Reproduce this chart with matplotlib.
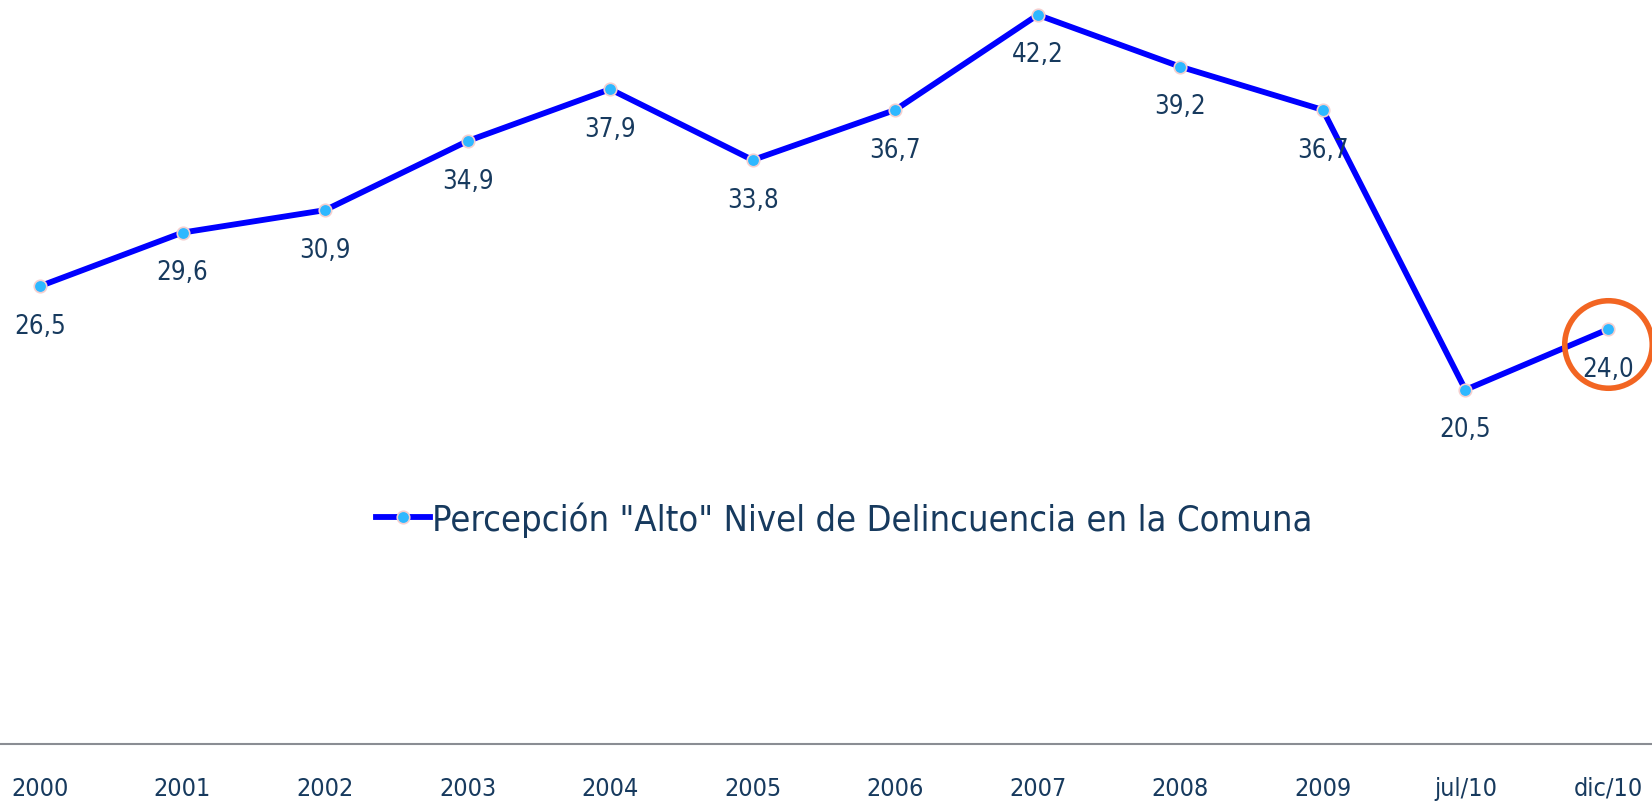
import matplotlib.pyplot as plt
from matplotlib.transforms import offset_copy

# data
periods = ["2000", "2001", "2002", "2003", "2004", "2005", "2006",
           "2007", "2008", "2009", "jul/10", "dic/10"]
percepcion = [26.5, 29.6, 30.9, 34.9, 37.9, 33.8, 36.7, 42.2, 39.2, 36.7, 20.5, 24.0]
series_name = 'Percepción "Alto" Nivel de Delincuencia en la Comuna'

text_color = "#173A5E"
plt.rcParams['font.family'] = ['DejaVu Sans']

fig = plt.figure(figsize=(16.52, 8.04), dpi=100)
ax = fig.add_axes([0, 59 / 804, 1, 1 - 59 / 804])

x = list(range(len(periods)))
ax.plot(x, percepcion, color="#0000FF", linewidth=4.2, marker="o",
        markersize=9, markerfacecolor="#2EB8FF", markeredgecolor="#F5CFCF",
        markeredgewidth=1.2, label=series_name, zorder=3)

for xi, v in zip(x, percepcion):
    ax.annotate(f"{v:.1f}".replace(".", ","), (xi, v), xytext=(0, -28.5),
                textcoords="offset points", ha="center", va="center",
                fontsize=18.5, color=text_color, fontstretch="condensed")

# orange circle highlighting the last value
circ_tr = offset_copy(ax.transData, fig=fig, x=0, y=-15, units="dots")
ax.plot(x[-1], percepcion[-1], marker="o", markersize=63, markerfacecolor="none",
        markeredgecolor="#F26522", markeredgewidth=4, transform=circ_tr,
        clip_on=False, zorder=4)

ax.set_xlim(-0.2806, 11.309)
ax.set_ylim(0, 43.12)
ax.set_xticks(x)
ax.set_xticklabels(periods, fontsize=18, color=text_color, fontstretch="condensed")
ax.tick_params(axis="x", length=0, pad=23)
ax.set_yticks([])
for s in ["top", "left", "right"]:
    ax.spines[s].set_visible(False)
ax.spines["bottom"].set_color("#8A8D93")
ax.spines["bottom"].set_linewidth(1.5)

leg = ax.legend(loc="center", bbox_to_anchor=(844 / 1652, 1 - 520 / 745),
                frameon=False, handlelength=1.5, handletextpad=0.05,
                prop={"size": 26, "stretch": "condensed"})
for t in leg.get_texts():
    t.set_color(text_color)

fig.savefig("out.png", dpi=100)
